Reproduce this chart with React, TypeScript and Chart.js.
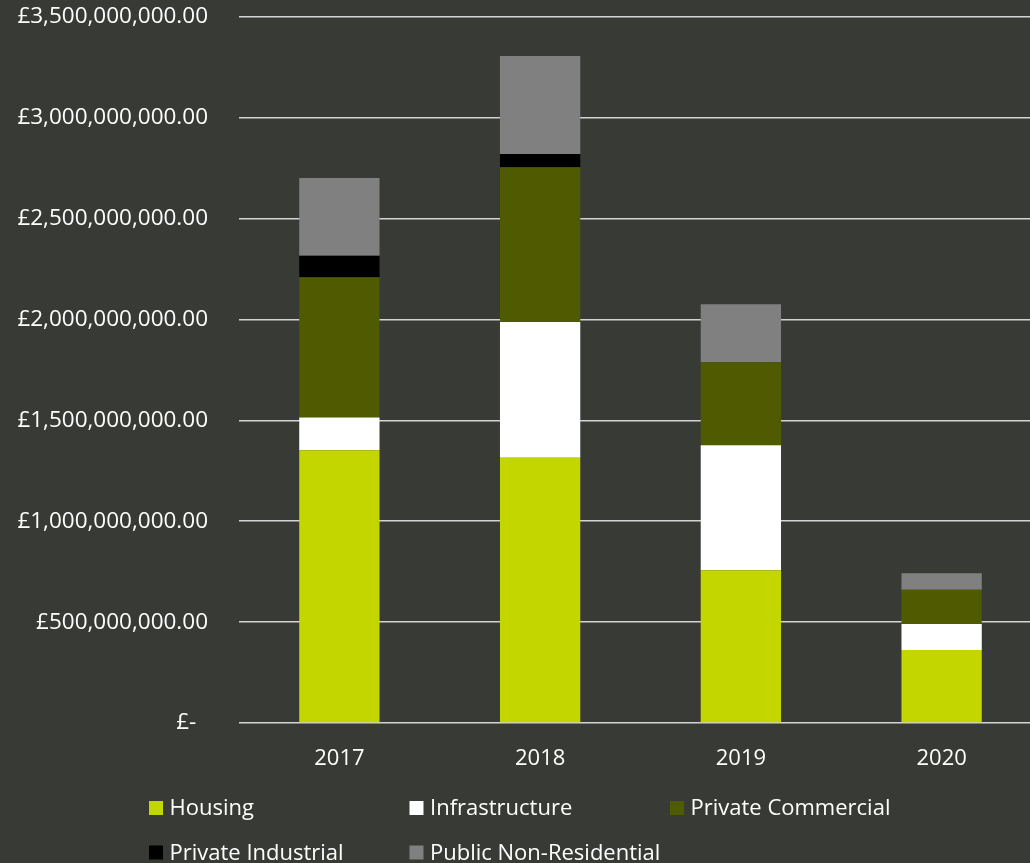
import React, { useEffect, useRef } from "react";
import { Chart, registerables } from "chart.js";

Chart.register(...registerables);

const categories = ["2017", "2018", "2019", "2020"];
const housing = [1352000000, 1315000000, 757000000, 362000000];
const infrastructure = [162000000, 673000000, 620000000, 129000000];
const privateCommercial = [696000000, 767000000, 411000000, 170000000];
const privateIndustrial = [107000000, 66000000, 0, 0];
const publicNonResidential = [385000000, 486000000, 288000000, 81000000];

const seriesNames = ["Housing", "Infrastructure", "Private Commercial", "Private Industrial", "Public Non-Residential"];
const seriesColors = ["#c4d600", "#ffffff", "#505a00", "#000000", "#808080"];

const BG = "#383a35";
const FONT = "'Open Sans', 'DejaVu Sans', sans-serif";
const TEXT = "#ffffff";

function formatTick(v: number): string {
  if (v === 0) return "£-  ";
  return "£" + v.toLocaleString("en-GB", { minimumFractionDigits: 2, maximumFractionDigits: 2 });
}

const gridLegend = {
  id: "gridLegend",
  afterDraw(chart: any) {
    const ctx = chart.ctx;
    const colX = [149, 409.5, 670];
    const rowY = [808, 852.5];
    const box = 14;
    ctx.save();
    ctx.font = `22px ${FONT}`;
    ctx.textBaseline = "middle";
    ctx.textAlign = "left";
    chart.data.datasets.forEach((ds: any, i: number) => {
      const c = i % 3;
      const r = Math.floor(i / 3);
      const x = colX[c];
      const y = rowY[r];
      ctx.fillStyle = ds.backgroundColor;
      ctx.fillRect(x, y - box / 2, box, box);
      ctx.fillStyle = TEXT;
      ctx.fillText(ds.label, x + box + 6.5, y + 1);
    });
    ctx.restore();
  },
};

export default function App() {
  const ref = useRef<HTMLCanvasElement | null>(null);

  useEffect(() => {
    if (!ref.current) return;
    const values = [housing, infrastructure, privateCommercial, privateIndustrial, publicNonResidential];
    const chart = new Chart(ref.current, {
      type: "bar",
      data: {
        labels: categories,
        datasets: values.map((d, i) => ({
          label: seriesNames[i],
          data: d,
          backgroundColor: seriesColors[i],
          borderWidth: 0,
          barPercentage: 0.4,
          categoryPercentage: 1.0,
        })),
      },
      options: {
        animation: false,
        responsive: true,
        maintainAspectRatio: false,
        layout: { padding: { top: 17, left: 0, right: 0, bottom: 0 } },
        plugins: {
          legend: { display: false },
          tooltip: { enabled: false },
        },
        scales: {
          x: {
            stacked: true,
            grid: { display: false, drawTicks: false },
            border: { display: false },
            ticks: {
              color: TEXT,
              font: { family: FONT, size: 22 },
              padding: 23,
            },
            afterFit(scale: any) {
              scale.height = 140;
              scale.paddingLeft = 0;
              scale.paddingRight = 0;
            },
          },
          y: {
            stacked: true,
            min: 0,
            max: 3500000000,
            grid: { color: "#d4d4d4", lineWidth: 1.6, drawTicks: false },
            border: { display: false },
            ticks: {
              stepSize: 500000000,
              color: TEXT,
              font: { family: FONT, size: 22.5 },
              padding: 31,
              callback: (v: any) => formatTick(Number(v)),
            },
            afterFit(scale: any) {
              scale.width = 239;
              scale.paddingTop = 0;
              scale.paddingBottom = 0;
            },
          },
        },
      },
      plugins: [gridLegend],
    });
    return () => chart.destroy();
  }, []);

  return (
    <div style={{ position: "fixed", left: 0, top: 0, width: 1030, height: 863, overflow: "hidden", background: BG }}>
      <div style={{ position: "absolute", left: 0, top: 0, width: 1042, height: 863 }}>
        <canvas ref={ref} />
      </div>
    </div>
  );
}
